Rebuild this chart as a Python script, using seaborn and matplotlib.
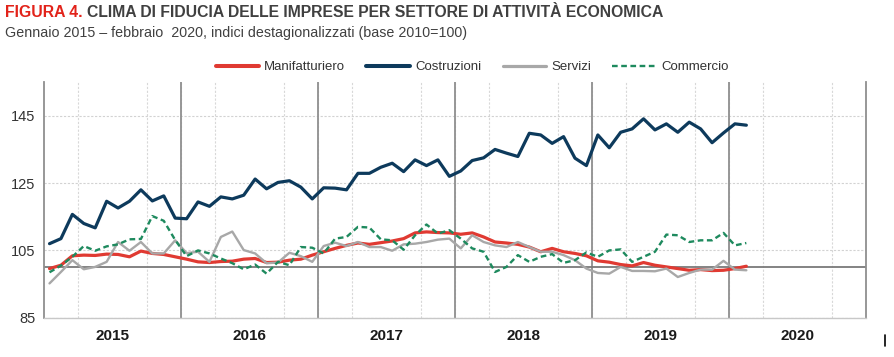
import numpy as np
import pandas as pd
import matplotlib.pyplot as plt
import seaborn as sns
from matplotlib.lines import Line2D

# Dati: clima di fiducia, gennaio 2015 - febbraio 2020 (base 2010=100)
settori = ['Manifatturiero', 'Costruzioni', 'Servizi', 'Commercio']
anni = ['2015', '2016', '2017', '2018', '2019', '2020']

manifatturiero = [99.6, 100.6, 103.4, 103.6, 103.5, 103.9, 103.8, 103.1, 104.8, 104.1, 103.8, 103.1,
                  102.4, 101.6, 101.4, 101.7, 101.8, 102.4, 102.6, 101.4, 101.5, 102.1, 102.4, 103.6,
                  104.6, 105.6, 106.5, 107.2, 106.8, 107.3, 107.8, 108.5, 110.2, 110.5, 110.3, 110.2,
                  109.8, 110.2, 109.0, 107.5, 107.2, 106.8, 106.0, 104.6, 105.6, 104.6, 104.1, 103.4,
                  101.9, 101.5, 100.8, 100.4, 101.4, 100.6, 100.1, 99.6, 99.1, 99.3, 99.0, 99.1, 99.6, 100.3]
costruzioni = [107.0, 108.5, 115.7, 113.0, 111.7, 119.6, 117.6, 119.6, 123.0, 119.7, 121.2, 114.6,
               114.4, 119.4, 118.1, 120.9, 120.3, 121.4, 126.2, 123.3, 125.2, 125.7, 123.8, 120.3,
               123.6, 123.5, 123.0, 127.9, 127.9, 129.7, 130.9, 128.4, 131.9, 130.2, 131.9, 127.0,
               128.6, 131.7, 132.5, 135.0, 133.9, 132.9, 139.8, 139.3, 136.8, 138.8, 132.4, 130.2,
               139.3, 135.5, 140.1, 141.1, 144.1, 140.8, 142.6, 140.1, 143.1, 141.1, 137.0, 139.9, 142.6, 142.2]
servizi = [95.2, 98.6, 102.1, 99.4, 100.1, 101.6, 107.5, 104.9, 107.5, 104.1, 104.1, 108.0,
           104.2, 104.6, 101.6, 109.0, 110.6, 105.1, 104.1, 101.2, 101.4, 104.3, 103.3, 101.6,
           106.3, 107.3, 106.3, 107.5, 106.0, 106.0, 104.9, 106.8, 107.0, 107.5, 108.2, 108.5,
           105.6, 109.5, 107.5, 106.5, 106.0, 107.5, 106.0, 104.6, 104.6, 103.6, 102.1, 99.6,
           98.3, 98.1, 100.1, 98.9, 98.9, 98.8, 99.6, 97.1, 98.3, 99.3, 99.3, 101.9, 99.3, 99.1]
commercio = [98.5, 100.5, 103.1, 106.3, 104.9, 106.2, 106.8, 108.3, 108.4, 115.2, 113.8, 108.1,
             103.3, 105.0, 104.1, 102.6, 101.2, 99.4, 100.8, 98.1, 101.6, 100.6, 106.0, 105.8,
             104.1, 108.5, 109.0, 112.0, 111.8, 108.3, 108.0, 105.2, 109.5, 112.7, 110.0, 111.0,
             108.5, 105.6, 104.6, 98.6, 100.1, 103.6, 101.6, 103.1, 103.9, 101.3, 102.1, 104.4,
             103.1, 105.0, 105.3, 101.6, 103.1, 104.6, 109.7, 109.5, 107.5, 108.0, 108.0, 110.2, 106.5, 107.2]

serie = [manifatturiero, costruzioni, servizi, commercio]
n = len(costruzioni)
df = pd.DataFrame({
    'mese': np.tile(np.arange(n), len(settori)),
    'valore': np.concatenate(serie),
    'settore': np.repeat(settori, n),
})

colori = {'Manifatturiero': '#e03a32', 'Costruzioni': '#0d3a5c',
          'Servizi': '#a8a8a8', 'Commercio': '#1e8a5e'}
spessori = {'Manifatturiero': 2.3, 'Costruzioni': 2.3, 'Servizi': 1.7, 'Commercio': 1.7}
tratti = {'Manifatturiero': '', 'Costruzioni': '', 'Servizi': '', 'Commercio': (2.4, 1.5)}

sns.set_theme(style="white")
plt.rcParams['font.family'] = ['Liberation Sans', 'DejaVu Sans']

fig, ax = plt.subplots(figsize=(8.94, 3.57), dpi=100)
fig.subplots_adjust(left=0.049, right=0.969, bottom=0.110, top=0.770)

# griglia
ax.set_xlim(-0.5, 71.5)
ax.set_ylim(85, 155)
ax.set_yticks([85, 105, 125, 145])
ax.yaxis.grid(True, color='#d2d2d2', linestyle=(0, (2, 1.5)), lw=0.8)
ax.set_xticks(np.arange(2.5, 71, 3), minor=True)
ax.xaxis.grid(True, which='minor', color='#d8d8d8', linestyle=(0, (2, 1.5)), lw=0.8)
ax.set_xticks(np.arange(5.5, 72, 12))
ax.set_xticklabels(anni, fontweight='bold', fontsize=11, color='#1a1a1a')
ax.tick_params(axis='x', which='both', length=0, pad=8)
ax.tick_params(axis='y', length=0, pad=6, labelsize=10.5, labelcolor='#333333')
for b in np.arange(11.5, 71, 12):
    ax.axvline(b, color='#8f8f8f', lw=1.3, zorder=1)
ax.axhline(100, color='#7a7a7a', lw=1.3, zorder=1)
ax.set_axisbelow(True)

sns.lineplot(data=df, x='mese', y='valore', hue='settore', style='settore', size='settore',
             palette=colori, dashes=tratti, sizes=spessori, legend=False, ax=ax, zorder=3)
ax.set_xlabel('')
ax.set_ylabel('')

ax.spines['top'].set_visible(False)
ax.spines['left'].set_color('#8f8f8f')
ax.spines['left'].set_linewidth(1.3)
ax.spines['right'].set_color('#8f8f8f')
ax.spines['right'].set_linewidth(1.3)
ax.spines['bottom'].set_color('#c8c8c8')
ax.spines['bottom'].set_linewidth(1.0)

# legenda
maniglie = [Line2D([], [], color=colori[s], lw=spessori[s] + 0.6 if s != 'Commercio' else spessori[s],
                   linestyle='-' if s != 'Commercio' else (0, (2.4, 1.5))) for s in settori]
fig.legend(maniglie, settori, loc='center', bbox_to_anchor=(0.528, 0.812), ncol=4, frameon=False,
           fontsize=9.5, handlelength=3.3, columnspacing=1.6, handletextpad=0.4,
           labelcolor='#333333')

# titoli
t1 = fig.text(0.006, 0.964, 'FIGURA 4.', color='#e2231a', fontweight='bold', fontsize=11.3,
              va='center', ha='left')
fig.canvas.draw()
bb = t1.get_window_extent().transformed(fig.transFigure.inverted())
fig.text(bb.x1 + 0.004, 0.964, 'CLIMA DI FIDUCIA DELLE IMPRESE PER SETTORE DI ATTIVITÀ ECONOMICA',
         color='#404040', fontweight='bold', fontsize=11.3, va='center', ha='left')
fig.text(0.006, 0.908, 'Gennaio 2015 – febbraio  2020, indici destagionalizzati (base 2010=100)',
         color='#404040', fontsize=10.3, va='center', ha='left')

fig.add_artist(Line2D([885 / 894, 885 / 894], [1 - 346 / 357, 1 - 335 / 357], color='black', lw=1.2))

fig.savefig('out.png', dpi=100)
